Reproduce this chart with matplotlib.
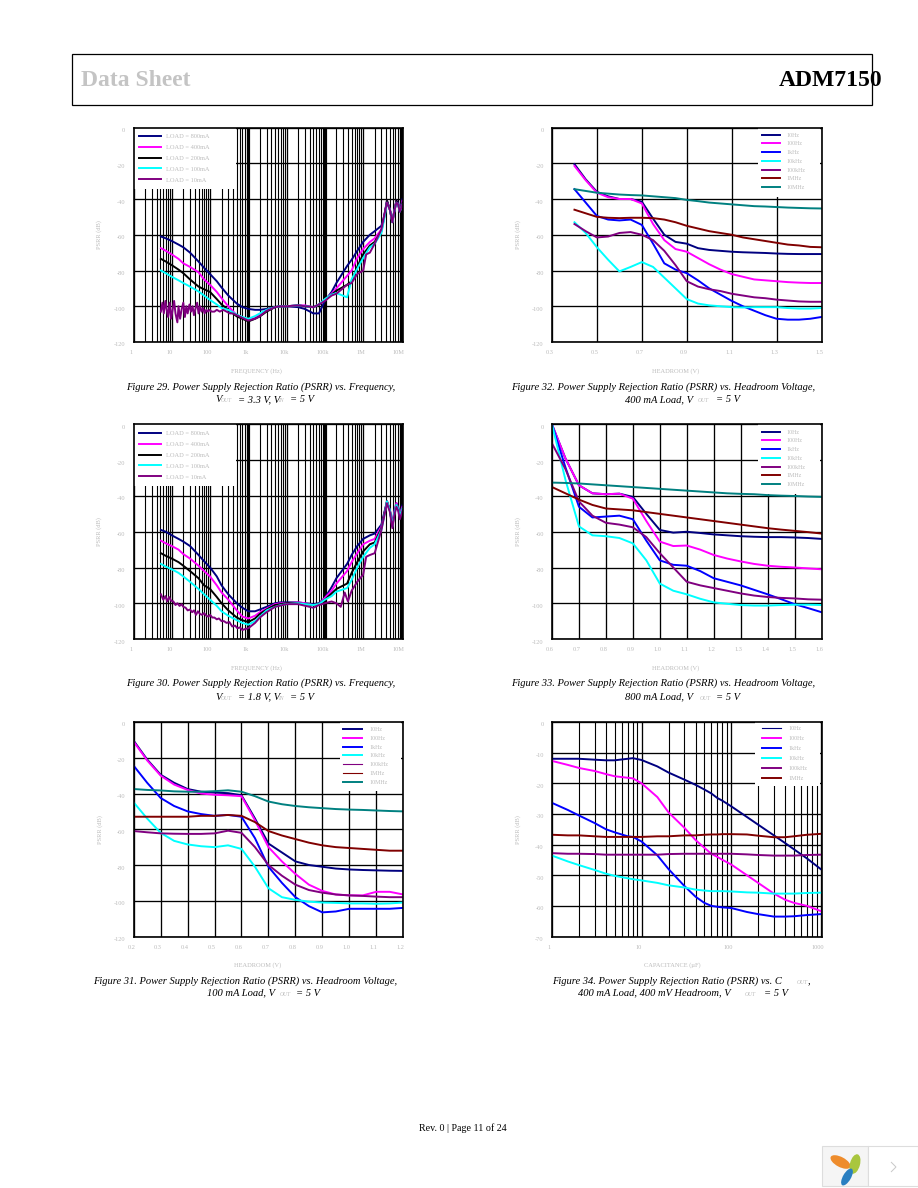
import matplotlib
matplotlib.use('Agg')
import matplotlib.pyplot as plt
from matplotlib.patches import Rectangle, Ellipse, PathPatch
from matplotlib.path import Path
from matplotlib.ticker import LogLocator, NullFormatter
from matplotlib.transforms import ScaledTranslation

plt.rcParams['font.family'] = ['Liberation Serif', 'DejaVu Serif']

NAVY, MAGENTA, BLUE, CYAN = '#000080', '#ff00ff', '#0000ff', '#00ffff'
PURPLE, MAROON, TEAL, BLACK = '#800080', '#800000', '#008080', '#000000'
GREY = '#bcbcbc'

load_labels = ['LOAD = 800mA', 'LOAD = 400mA', 'LOAD = 200mA', 'LOAD = 100mA', 'LOAD = 10mA']
load_colors = [NAVY, MAGENTA, BLACK, CYAN, PURPLE]
freq_labels = ['10Hz', '100Hz', '1kHz', '10kHz', '100kHz', '1MHz', '10MHz']
freq_colors = [NAVY, MAGENTA, BLUE, CYAN, PURPLE, MAROON, TEAL]

# frequency sweeps (fig 29, 30)
freq = [5.2, 7, 10, 15, 20, 30, 50, 70, 100, 150, 200, 300, 500, 700, 1e3, 1.5e3, 2e3, 3e3, 5e3, 7e3,
        1e4, 2e4, 3e4, 5e4, 7e4, 1e5, 1.5e5, 2e5, 3.8e5, 5e5, 7e5, 1e6, 1.5e6, 2e6, 3e6, 3.5e6, 4.2e6,
        5e6, 5.8e6, 6.5e6, 7.4e6, 8.2e6, 9.1e6, 1.07e7]

fig29_800 = [-61, -62, -63.5, -65.5, -67, -70, -75, -78.5, -82, -86, -89.5, -94, -98.5, -100.5, -101.5,
             -102, -102, -101.5, -100.5, -100, -100, -100.5, -101.5, -104, -104, -97, -92, -87, -77.5, -74,
             -69, -64, -60, -58, -55, -50, -41, -46, -52, -47, -41, -42, -47, -40]
fig29_400 = [-67.5, -69, -71, -73.5, -76, -78, -81, -85, -88, -92, -95.5, -100, -105, -106.5, -108,
             -106.5, -104.7, -102.5, -100.5, -100, -100, -99.5, -99.5, -100.6, -99, -96.5, -93, -90, -83, -80,
             -73, -68, -64, -62, -57, -51, -41, -46, -53, -47, -41, -43, -47, -41]
fig29_200 = [-73.5, -75, -77, -79.5, -81.5, -85, -89, -90.5, -92, -96, -99, -102, -105.7, -107, -108.5,
             -107, -105.7, -103, -100.5, -100, -100, -99.5, -100, -100.5, -99, -96.5, -93.5, -91.3, -88, -86,
             -78, -71, -66, -64, -58, -51, -41, -46, -53, -47, -41, -43, -47, -42]
fig29_100 = [-80, -81.5, -83.5, -85.5, -87, -89, -91.7, -94, -96.5, -99, -101, -102, -104.7, -106, -107,
             -105.5, -104, -102, -100.5, -100, -100, -99.5, -100, -100.5, -99, -96, -93.5, -92.6, -95, -85,
             -79, -73, -67, -65, -59, -52, -42, -46, -53, -47, -42, -43, -47, -43]
fig29_10_freq = [5.2, 5.7, 6.2, 6.8, 7.4, 8, 8.8, 9.6, 10.5, 11.5, 12.5, 14, 15, 16.5, 18, 20, 22, 24, 26, 29,
                 32, 35, 38, 42, 46, 50, 55, 60, 66, 72, 80, 88, 97, 110, 130, 150, 180, 220, 270, 330,
                 400, 500, 700, 1e3, 1.5e3, 2e3, 3e3, 5e3, 7e3, 1e4, 2e4, 3e4, 5e4, 7e4, 1e5, 1.5e5, 2e5,
                 3.8e5, 5e5, 7e5, 1e6, 1.2e6, 1.5e6, 2e6, 3e6, 3.5e6, 4.2e6, 5e6, 5.8e6, 6.5e6, 7.4e6,
                 8.2e6, 9.1e6, 1.07e7]
fig29_10 = [-103, -98, -104, -97, -102, -106, -98, -107, -102, -97, -104, -109, -100, -107, -102, -98, -106,
            -100, -104, -99, -103, -100, -105, -101, -98, -104, -100, -103, -101, -104, -102, -103, -102, -103,
            -103, -102, -103, -102, -103, -104, -104, -105, -106.5, -108, -107, -105.5, -102.5, -100.5, -100,
            -100, -99.5, -100, -100.5, -99, -97, -94, -93, -88, -87, -82, -80, -71, -70, -65, -57, -50, -42,
            -46, -53, -47, -42, -43, -47, -43]

fig30_800 = [-59, -60, -62, -64, -65.5, -68, -73, -76.5, -80, -85, -90, -95, -100, -102.5, -104.5,
             -104.5, -103.5, -102, -100, -99.5, -99.5, -99.5, -100, -100.5, -100, -97, -91, -86, -78, -73,
             -68, -64, -62, -61, -56, -50, -43, -48, -56, -49, -44, -46, -50, -45]
fig30_400 = [-65, -66.5, -68, -70, -72.5, -75, -79, -82, -85, -90, -94, -98, -104, -107.5, -108.5,
             -107, -105, -103, -100.5, -100, -100, -99.5, -100, -101, -100.5, -97, -93, -89, -82, -77,
             -72, -67, -65, -64, -57, -51, -43, -48, -56, -49, -44, -47, -50, -46]
fig30_200 = [-72, -73.5, -75, -77, -79, -82, -86, -90, -92, -96.5, -100, -104, -108, -109.5, -110.5,
             -108.5, -106, -103.5, -101, -100.5, -100, -100, -100.5, -101, -100.5, -98, -94.5, -92, -89, -83,
             -77, -71, -67, -66, -58, -51, -43, -48, -57, -50, -45, -47, -51, -47]
fig30_100 = [-78, -79.5, -81, -83, -85, -88, -92, -95, -98, -101.5, -104.5, -107, -109.5, -111, -112,
             -110, -107.5, -104, -102, -101, -100.5, -100, -100.5, -101, -100.5, -98, -96, -93.5, -91.5, -87,
             -80, -74, -69, -67, -59, -52, -43, -48, -57, -50, -45, -47, -51, -47]
fig30_10_freq = [5.2, 6, 6.8, 7.6, 8.5, 9.5, 11, 12.5, 14, 16, 18, 20, 23, 26, 30, 34, 38, 43, 48, 55, 62, 70,
                 80, 90, 100, 115, 130, 150, 170, 200, 230, 270, 320, 380, 450, 520, 600, 700, 800, 1e3,
                 1.5e3, 2e3, 3e3, 5e3, 1e4, 2e4, 5e4, 7e4, 1e5, 1.5e5, 2e5, 2.6e5, 3.3e5, 4e5, 5e5, 7e5, 1e6,
                 1.2e6, 1.5e6, 2e6, 3e6, 3.5e6, 4.2e6, 5e6, 5.8e6, 6.5e6, 7.4e6, 8.2e6, 9.1e6, 1.07e7]
fig30_10 = [-95, -98, -96, -99, -96.5, -98.5, -99, -101, -100, -101.5, -100.5, -102, -102.5, -104, -103.5,
            -105, -104, -106.5, -104.5, -106, -106.5, -105.5, -107, -107.5, -106.5, -108, -108, -109, -108.5,
            -110, -110, -111, -110.5, -113, -112.5, -114, -113.5, -115, -114.5, -114, -111, -108, -105, -102,
            -100.5, -100.5, -102.5, -101, -100, -99, -100, -102, -94, -99, -93, -88, -84, -74, -73, -72, -59,
            -52, -44, -49, -58, -51, -46, -48, -53, -48]

# headroom sweeps
fig32_head = [0.4, 0.45, 0.5, 0.55, 0.6, 0.65, 0.7, 0.75, 0.8, 0.85, 0.9, 0.95, 1.0, 1.05, 1.1, 1.15, 1.2,
              1.25, 1.3, 1.35, 1.4, 1.45, 1.5]
fig32_10 = [-20.5, -29, -36, -38.5, -40, -40, -41.5, -51, -60, -64, -65, -67.5, -68.5, -69, -69.5, -69.8, -70,
            -70.2, -70.5, -70.7, -70.8, -70.8, -70.8]
fig32_100 = [-21.5, -29.5, -36.5, -39, -40, -40, -42.5, -54, -63, -68, -69.5, -73, -76.5, -79.5, -82, -83.5,
             -85, -85.5, -86, -86.5, -86.8, -87, -87]
fig32_1k = [-34.5, -42, -49.5, -51.5, -52, -51.5, -54.5, -65, -76, -79.5, -81.5, -85.5, -90, -93.5, -97, -100,
            -102.5, -105, -107, -107.5, -107.5, -107, -106]
fig32_10k = [-53, -59, -67, -74, -80.5, -78, -75.3, -78, -84, -90, -96, -98.5, -99.5, -100, -100.5, -100.7,
             -100.5, -100.5, -100.5, -101, -101.3, -101.3, -101]
fig32_100k = [-54, -58, -61.5, -61, -59, -58.5, -60, -63, -69, -77, -86, -89, -90.5, -91.5, -93, -94, -95,
              -95.5, -96.3, -96.8, -97.3, -97.5, -97.5]
fig32_1m = [-46, -48, -50, -50.5, -50.7, -50.5, -50.5, -50.7, -51.5, -53, -55, -56.5, -58, -59, -60, -61.5,
            -62.5, -63.5, -64.5, -65.5, -66, -66.8, -67]
fig32_10m = [-34.5, -35.5, -36.5, -37, -37.5, -37.8, -38, -38.5, -39, -39.5, -40.5, -41.2, -42, -42.5, -43,
             -43.5, -44, -44.2, -44.5, -44.8, -45, -45.2, -45.3]

fig33_head = [0.6, 0.65, 0.7, 0.75, 0.8, 0.85, 0.9, 0.95, 1.0, 1.05, 1.1, 1.15, 1.2, 1.25, 1.3, 1.35, 1.4,
              1.45, 1.5, 1.55, 1.6]
fig33_10 = [0, -19, -34, -38.5, -39, -38.7, -40.5, -50, -59, -60.5, -60, -60.7, -61.5, -62, -62.5, -62.8, -63,
            -63, -63.2, -63.5, -64]
fig33_100 = [0, -19, -34, -38.5, -39, -38.7, -41.5, -54, -65.5, -68, -67.7, -70, -73, -75, -76.6, -78, -79,
             -79.6, -80, -80.5, -81]
fig33_1k = [0, -24, -46, -52, -51.5, -51, -53, -65, -76, -78.5, -79, -82, -86, -88, -90, -92.5, -95, -97.7,
            -100.5, -102.7, -105]
fig33_10k = [0, -31, -57, -62, -62.5, -63.5, -66.5, -76, -89, -93, -95, -97.5, -99.5, -100.3, -101, -101.3,
             -101.3, -101, -100.8, -100.8, -101]
fig33_100k = [-10.6, -25, -43, -51, -55, -56, -57.5, -63, -72, -80, -88, -90, -91.5, -93, -94.5, -95.7, -96.5,
              -97, -97.3, -97.8, -98]
fig33_1m = [-35, -38.5, -42, -45, -47, -47.5, -48, -49, -50, -51, -52, -53, -54, -55, -56, -57, -58, -58.8,
            -59.5, -60.2, -61]
fig33_10m = [-32.5, -32.7, -33, -33.5, -34, -34.5, -35, -35.5, -36, -36.5, -37, -37.5, -38, -38.5, -38.8, -39,
             -39.5, -39.8, -40, -40.3, -40.5]

fig31_head = [0.2, 0.25, 0.3, 0.35, 0.4, 0.45, 0.5, 0.55, 0.6, 0.65, 0.7, 0.75, 0.8, 0.85, 0.9, 0.95, 1.0,
              1.05, 1.1, 1.15, 1.2]
fig31_10 = [-10.5, -21, -29.5, -34, -37.5, -39, -39.5, -39.8, -41, -54, -68, -73, -78, -80, -81, -82, -82.5,
            -82.8, -83, -83.2, -83.3]
fig31_100 = [-11, -21.5, -30, -35, -38, -40, -40.7, -41, -41.5, -55, -70, -78, -85, -91, -94.5, -96.5, -97, -97,
             -95, -95, -96.5]
fig31_1k = [-24.5, -34, -42.5, -47, -50, -51.5, -52.5, -52, -53, -65, -81, -90, -98, -103, -106.5, -106, -104.5,
            -104.5, -104.5, -104.5, -104]
fig31_10k = [-45, -54, -62, -66.5, -68.5, -69.5, -70, -69, -71, -81, -93, -98, -99.5, -100.5, -101, -101.2,
             -101.5, -101.5, -101.7, -101.5, -101]
fig31_100k = [-61, -61.7, -62.3, -62.5, -62.6, -62.6, -62.3, -60.8, -62, -70, -80, -86, -91, -94, -95.5, -96.5,
              -97, -97.3, -97.7, -98, -98]
fig31_1m = [-53, -53, -53, -53, -53, -52.5, -52.5, -52, -52.5, -56, -61, -63.5, -65.5, -67.5, -69, -70, -70.5,
            -71, -71.5, -72, -72]
fig31_10m = [-37.5, -38, -38.3, -38.8, -39, -39, -38.7, -38.2, -39, -41.5, -44.5, -46, -47, -47.7, -48.2, -48.7,
             -49, -49.2, -49.5, -49.8, -50]

# capacitance sweep (fig 34)
fig34_cap = [1, 1.5, 2, 3, 4, 5, 7, 8, 10, 15, 20, 30, 40, 50, 60, 70, 80, 100, 150, 200, 300, 400, 500, 700, 1000]
fig34_10 = [-12, -12, -12, -12.3, -12.5, -12.5, -12, -11.8, -12.4, -14.5, -16.5, -18.8, -20.5, -22, -23.3, -24.8,
            -25.7, -27.5, -31, -33.5, -37, -39.5, -41.5, -44.5, -48]
fig34_100 = [-12.7, -14, -15, -16, -17, -17.7, -18.2, -18.4, -20, -24.5, -29.5, -34.5, -38.5, -41, -43, -44, -45,
             -46.5, -50, -52.5, -56, -58, -59, -60, -61.7]
fig34_1k = [-26.4, -28.7, -30.5, -33, -35, -36, -37.3, -37.5, -39, -43.5, -48, -53.5, -57, -59, -60, -60.3, -60.5,
            -60.7, -62, -62.7, -63.5, -63.5, -63.4, -63, -62.7]
fig34_10k = [-43.6, -45.5, -46.7, -48.3, -49.5, -50.2, -51, -51.3, -51.7, -52.5, -53.3, -54, -54.7, -55, -55.2,
             -55.2, -55.2, -55.3, -55.6, -55.7, -56, -56, -56, -55.8, -55.7]
fig34_100k = [-42.8, -43, -43, -43.1, -43.3, -43.3, -43.3, -43.3, -43.3, -43.3, -43.1, -43, -43, -43, -43, -43, -43,
              -43, -43.2, -43.4, -43.6, -43.6, -43.6, -43.4, -43.3]
fig34_1m = [-36.8, -37, -37, -37.3, -37.5, -37.5, -37.5, -37.5, -37.5, -37.3, -37.3, -37, -37, -36.8, -36.7, -36.7,
            -36.6, -36.6, -36.7, -37.1, -37.6, -37.6, -37.3, -36.8, -36.5]

psrr_ticks = [0, -20, -40, -60, -80, -100, -120]
freq_ticks = [1, 10, 100, 1e3, 1e4, 1e5, 1e6, 1e7]
freq_ticklabels = ['1', '10', '100', '1k', '10k', '100k', '1M', '10M']
thick_freqs = [1e3, 1e5, 1e7]
fig32_ticks = [0.3, 0.5, 0.7, 0.9, 1.1, 1.3, 1.5]
fig33_ticks = [0.6, 0.7, 0.8, 0.9, 1.0, 1.1, 1.2, 1.3, 1.4, 1.5, 1.6]
fig31_ticks = [0.2, 0.3, 0.4, 0.5, 0.6, 0.7, 0.8, 0.9, 1.0, 1.1, 1.2]
cap_ticks = [1, 10, 100, 1000]
cap_psrr_ticks = [0, -10, -20, -30, -40, -50, -60, -70]

fig = plt.figure(figsize=(9.18, 11.88), dpi=100)


def panel_axes(left, top):
    return fig.add_axes([left / 918, 1 - (top + 214.5) / 1188, 269.5 / 918, 214.5 / 1188])


def nudge(labels, dx, dy):
    # the tick labels sit a bit off their grid lines in the original
    for lab in labels:
        lab.set_transform(lab.get_transform() + ScaledTranslation(dx / 100, dy / 100, fig.dpi_scale_trans))


def style(ax, xlim, xticks, xticklabels, yticks, xlabel, log, xlabel_x):
    ax.set_ylim(yticks[-1], 0)
    if log:
        ax.set_xscale('log')
    ax.set_xlim(*xlim)
    ax.set_xticks(xticks)
    ax.set_xticklabels(xticklabels)
    if log:
        ax.xaxis.set_minor_locator(LogLocator(base=10, subs=range(2, 10), numticks=12))
        ax.xaxis.set_minor_formatter(NullFormatter())
    ax.set_yticks(yticks)
    ax.set_yticklabels([str(v) for v in yticks])
    ax.set_axisbelow(True)
    ax.grid(which='major', color='black', lw=0.95)
    if log:
        ax.grid(which='minor', axis='x', color='black', lw=0.8)
    ax.tick_params(which='both', length=0, labelsize=4.6, labelcolor=GREY, pad=6)
    nudge(ax.get_xticklabels(), -2.5, 0)
    nudge(ax.get_yticklabels(), 0, -2.5)
    ax.set_xlabel(xlabel, fontsize=4.6, color=GREY, x=xlabel_x, labelpad=9)
    ax.set_ylabel('PSRR (dB)', fontsize=4.6, color=GREY)
    ax.yaxis.set_label_coords(-31 / 269.5, 0.5)
    for s in ax.spines.values():
        s.set_linewidth(1.2)


def add_legend(ax, x0, x1, h, lx, ly, spacing, thin=(), **kw):
    ax.add_patch(Rectangle((x0, 1 - h), x1 - x0, h, transform=ax.transAxes, color='white', lw=0, zorder=1))
    leg = ax.legend(loc='upper left', bbox_to_anchor=(lx, ly), borderaxespad=0, borderpad=0, frameon=False,
                    labelspacing=spacing, labelcolor=GREY, **kw)
    for i in thin:
        leg.get_lines()[i].set_linewidth(0.8)


def plot_series(ax, xs, series, labels, colors):
    for x, y, lab, c in zip(xs, series, labels, colors):
        ax.plot(x, y, color=c, lw=1.4, label=lab, zorder=2)


# Figures 29, 30
ax = panel_axes(133.5, 127.5)
style(ax, (1, 1.1e7), freq_ticks, freq_ticklabels, psrr_ticks, 'FREQUENCY (Hz)', True, 0.455)
for f in thick_freqs:
    ax.axvline(f, color='black', lw=2.3, zorder=0.8)
plot_series(ax, [freq, freq, freq, freq, fig29_10_freq], [fig29_800, fig29_400, fig29_200, fig29_100, fig29_10],
            load_labels, load_colors)
add_legend(ax, 0, 0.38, 0.287, 0.022, 0.972, 0.85, fontsize=4.6, handlelength=3.4, handletextpad=0.7)

ax = panel_axes(133.5, 424.5)
style(ax, (1, 1.1e7), freq_ticks, freq_ticklabels, psrr_ticks, 'FREQUENCY (Hz)', True, 0.455)
for f in thick_freqs:
    ax.axvline(f, color='black', lw=2.3, zorder=0.8)
plot_series(ax, [freq, freq, freq, freq, fig30_10_freq], [fig30_800, fig30_400, fig30_200, fig30_100, fig30_10],
            load_labels, load_colors)
add_legend(ax, 0, 0.38, 0.287, 0.022, 0.972, 0.85, fontsize=4.6, handlelength=3.4, handletextpad=0.7)

# Figures 31, 32, 33
ax = panel_axes(133.7, 722)
style(ax, (0.2, 1.2), fig31_ticks, [f'{t:.1f}' for t in fig31_ticks], psrr_ticks, 'HEADROOM (V)', False, 0.46)
plot_series(ax, [fig31_head] * 7, [fig31_10, fig31_100, fig31_1k, fig31_10k, fig31_100k, fig31_1m, fig31_10m],
            freq_labels, freq_colors)
add_legend(ax, 0.765, 0.993, 0.323, 0.778, 0.977, 0.6, thin=(4, 5), fontsize=4.3, handlelength=3.2, handletextpad=1.2)

ax = panel_axes(552, 127.5)
style(ax, (0.3, 1.5), fig32_ticks, [f'{t:.1f}' for t in fig32_ticks], psrr_ticks, 'HEADROOM (V)', False, 0.46)
plot_series(ax, [fig32_head] * 7, [fig32_10, fig32_100, fig32_1k, fig32_10k, fig32_100k, fig32_1m, fig32_10m],
            freq_labels, freq_colors)
add_legend(ax, 0.763, 0.993, 0.323, 0.778, 0.977, 0.6, fontsize=4.3, handlelength=3.0, handletextpad=1.2)

ax = panel_axes(552, 424.5)
style(ax, (0.6, 1.6), fig33_ticks, [f'{t:.1f}' for t in fig33_ticks], psrr_ticks, 'HEADROOM (V)', False, 0.46)
plot_series(ax, [fig33_head] * 7, [fig33_10, fig33_100, fig33_1k, fig33_10k, fig33_100k, fig33_1m, fig33_10m],
            freq_labels, freq_colors)
add_legend(ax, 0.763, 0.993, 0.323, 0.778, 0.977, 0.6, fontsize=4.3, handlelength=3.0, handletextpad=1.2)

# Figure 34
ax = panel_axes(552, 722)
style(ax, (1, 1020), cap_ticks, [str(c) for c in cap_ticks], cap_psrr_ticks, 'CAPACITANCE (\u00b5F)', True, 0.445)
plot_series(ax, [fig34_cap] * 6, [fig34_10, fig34_100, fig34_1k, fig34_10k, fig34_100k, fig34_1m],
            freq_labels[:6], freq_colors[:6])
add_legend(ax, 0.754, 0.993, 0.30, 0.778, 0.982, 0.8, thin=(0,), fontsize=4.3, handlelength=3.2, handletextpad=1.2)

# page furniture, pixel coordinates
page = fig.add_axes([0, 0, 1, 1], zorder=-1)
page.set_xlim(0, 918)
page.set_ylim(1188, 0)
page.axis('off')

page.add_patch(Rectangle((72, 54), 800, 51, fc='white', ec='black', lw=0.9))
page.text(81, 81, 'Data Sheet', fontsize=17, fontweight='bold', color='#c4c4c4', va='center')
page.text(882, 81, 'ADM7150', fontsize=17, fontweight='bold', color='black', va='center', ha='right')
page.text(463, 1128, 'Rev. 0 | Page 11 of 24', fontsize=7.2, ha='center', va='center')

caption_heads = [(261, 387, 'Figure 29. Power Supply Rejection Ratio (PSRR) vs. Frequency,'),
                 (663, 387, 'Figure 32. Power Supply Rejection Ratio (PSRR) vs. Headroom Voltage,'),
                 (261, 683, 'Figure 30. Power Supply Rejection Ratio (PSRR) vs. Frequency,'),
                 (663, 683, 'Figure 33. Power Supply Rejection Ratio (PSRR) vs. Headroom Voltage,'),
                 (245, 981, 'Figure 31. Power Supply Rejection Ratio (PSRR) vs. Headroom Voltage,')]
for x, y, txt in caption_heads:
    page.text(x, y, txt, fontsize=7.6, style='italic', ha='center', va='center')
page.text(552, 981, 'Figure 34. Power Supply Rejection Ratio (PSRR) vs. C', fontsize=7.6, style='italic', va='center')
page.text(808, 981, ',', fontsize=7.6, style='italic', va='center')

caption_parts = [(215, 400, 'V'), (238, 400, '= 3.3 V, V'), (290, 400, '= 5 V'),
                 (215, 697, 'V'), (238, 697, '= 1.8 V, V'), (290, 697, '= 5 V'),
                 (625, 400, '400 mA Load, V'), (716, 400, '= 5 V'),
                 (625, 697, '800 mA Load, V'), (716, 697, '= 5 V'),
                 (207, 993, '100 mA Load, V'), (296, 993, '= 5 V'),
                 (578, 993, '400 mA Load, 400 mV Headroom, V'), (764, 993, '= 5 V')]
for x, y, txt in caption_parts:
    page.text(x, y, txt, fontsize=7.6, style='italic', va='center')
caption_subs = [(221, 401, 'OUT'), (278, 401, 'IN'), (221, 698, 'OUT'), (278, 698, 'IN'), (698, 401, 'OUT'),
                (700, 698, 'OUT'), (280, 994, 'OUT'), (745, 994, 'OUT'), (797, 982, 'OUT')]
for x, y, txt in caption_subs:
    page.text(x, y, txt, fontsize=4, style='italic', color=GREY, va='center')

# viewer badge bottom right
page.add_patch(Rectangle((822, 1146), 46, 40, fc='#f5f5f5', ec='#dddddd', lw=0.8))
page.add_patch(Rectangle((868, 1146), 50, 40, fc='white', ec='#dddddd', lw=0.8))
page.add_patch(Ellipse((840.5, 1162), 22, 10, angle=28, color='#ee8c2c', lw=0))
page.add_patch(Ellipse((855, 1164), 10, 20, angle=15, color='#a9c63e', lw=0))
page.add_patch(Ellipse((847, 1177), 8, 19, angle=30, color='#2a7fc1', lw=0))
page.add_patch(PathPatch(Path([(891, 1162), (896, 1167), (891, 1172)]), fc='none', ec='#c8c8c8', lw=0.7))

fig.savefig('out.png', dpi=100)
